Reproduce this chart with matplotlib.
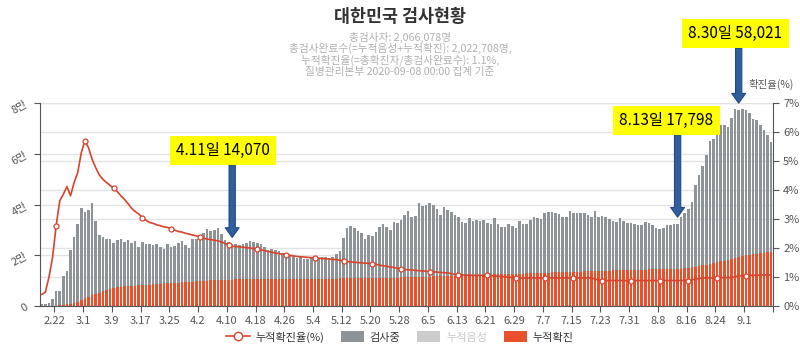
#!/usr/bin/env python3

import numpy as np
import pandas as pd
import matplotlib
matplotlib.use("Agg")
import matplotlib.pyplot as plt
from matplotlib.lines import Line2D
from matplotlib.patches import Patch

plt.rcParams['font.family'] = ['Noto Sans CJK KR', 'DejaVu Sans']

##################################################
##                    data                      ##
##################################################

dates = pd.date_range("2020-02-18", "2020-09-08", freq="D")
date_labels = ["{:d}.{:d}".format(d.month, d.day) for d in dates]

# 검사중 (tests in progress)
testing = [
  # Feb 18-29
  640, 900, 1280, 2570, 5800, 5570, 11400, 13170, 21020, 26040, 30630, 36160,
  # Mar
  33850, 34260, 36190, 28890, 22670, 21530, 20020, 19530, 17570, 18620, 18790, 17550,
  18130, 16920, 17610, 15140, 17060, 16080, 15990, 15440, 15750, 14500, 13500, 15440,
  14260, 14460, 15460, 16370, 14520, 13120, 16840,
  # Apr
  16510, 17410, 18720, 20240, 19540, 19760, 20620, 18070, 15620, 14880, 14070, 13920,
  13490, 13860, 14340, 14910, 14690, 14270, 13750, 12640, 11530, 11920, 11310, 11000,
  10190, 9680, 9270, 8860, 8350, 8540,
  # May
  7940, 7930, 8320, 8510, 8300, 8500, 8490, 8290, 8480, 9560, 10830, 16090,
  19660, 20540, 19610, 18580, 17560, 15550, 16840, 16420, 18090, 20080, 21360, 20040,
  18710, 21990, 21580, 22640, 24460, 26200, 23560,
  # Jun
  23930, 29000, 27860, 28210, 28870, 28130, 26380, 24020, 27290, 25950, 25300, 23850,
  22900, 21150, 20720, 22380, 21450, 21700, 21340, 21590, 20430, 19880, 22060, 20020,
  18670, 18640, 19700, 18950, 18190, 20740,
  # Jul
  19500, 19650, 21000, 22230, 21470, 21010, 23660, 24020, 23960, 23510, 22860, 21530,
  21480, 24120, 23290, 23250, 23190, 22830, 22090, 21160, 23830, 21380, 21720, 21260,
  20320, 19410, 19050, 20330, 19300, 18650, 18530,
  # Aug
  18200, 17760, 17530, 18810, 18480, 17640, 16300, 15780, 16240, 17300, 17470, 17640,
  17798, 20430, 21930, 23160, 25580, 31990, 35940, 38940, 43250, 48230, 48900, 50100,
  53840, 53360, 52140, 55190, 58600, 58021, 58100,
  # Sep 1-8
  57450, 55820, 53050, 52460, 50660, 48490, 46320, 43300,
]

# 누적확진 (cumulative confirmed)
confirmed = [
  30, 31, 51, 104, 204, 433, 602, 833, 977, 1261, 1766, 2337,
  3150, 3736, 4212, 4812, 5328, 5766, 6284, 6767, 7134, 7382, 7513, 7755,
  7869, 7979, 8086, 8162, 8236, 8320, 8413, 8565, 8652, 8799, 8897, 8961,
  9037, 9137, 9241, 9332, 9478, 9583, 9661,
  9786, 9887, 9976, 10062, 10156, 10237, 10284, 10331, 10384, 10423, 10450, 10480,
  10512, 10537, 10564, 10591, 10613, 10635, 10653, 10661, 10674, 10683, 10694, 10702,
  10708, 10718, 10728, 10738, 10752, 10761,
  10765, 10774, 10780, 10793, 10801, 10804, 10806, 10810, 10822, 10840, 10874, 10909,
  10936, 10962, 10991, 11018, 11037, 11050, 11065, 11078, 11110, 11122, 11142, 11165,
  11190, 11206, 11225, 11265, 11344, 11402, 11441,
  11468, 11503, 11541, 11590, 11629, 11668, 11719, 11776, 11814, 11852, 11902, 11947,
  12003, 12051, 12085, 12121, 12155, 12198, 12257, 12306, 12373, 12421, 12438, 12484,
  12535, 12563, 12602, 12653, 12715, 12757,
  12800, 12850, 12904, 12967, 13030, 13091, 13137, 13181, 13244, 13293, 13338, 13373,
  13417, 13479, 13512, 13551, 13612, 13672, 13711, 13745, 13771, 13816, 13879, 13938,
  13979, 14092, 14150, 14175, 14203, 14251, 14269,
  14305, 14336, 14366, 14389, 14423, 14456, 14499, 14519, 14562, 14598, 14626, 14660,
  14714, 14770, 14873, 15039, 15318, 15515, 15761, 16058, 16346, 16670, 17002, 17399,
  17665, 17945, 18265, 18706, 19077, 19400, 19699,
  19947, 20182, 20449, 20644, 20842, 21010, 21177, 21296,
]

# 누적확진율 (%)
positive_rate = [
  0.40, 0.48, 1.00, 1.68, 2.77, 3.63, 3.85, 4.12, 3.80, 4.26, 4.60, 5.29,
  5.69, 5.46, 5.06, 4.77, 4.52, 4.37, 4.26, 4.16, 4.06, 3.95, 3.80, 3.68,
  3.53, 3.37, 3.26, 3.17, 3.05, 2.96, 2.88, 2.85, 2.80, 2.77, 2.73, 2.71,
  2.67, 2.62, 2.57, 2.55, 2.51, 2.48, 2.45,
  2.42, 2.38, 2.34, 2.31, 2.29, 2.27, 2.25, 2.21, 2.16, 2.10, 2.06, 2.05,
  2.04, 2.03, 2.01, 2.00, 1.98, 1.96, 1.94, 1.91, 1.88, 1.86, 1.83, 1.81,
  1.79, 1.77, 1.75, 1.73, 1.71, 1.70,
  1.69, 1.68, 1.67, 1.66, 1.65, 1.64, 1.63, 1.62, 1.61, 1.60, 1.58, 1.56,
  1.54, 1.52, 1.51, 1.50, 1.49, 1.48, 1.47, 1.46, 1.44, 1.41, 1.39, 1.37,
  1.35, 1.33, 1.30, 1.28, 1.26, 1.25, 1.24,
  1.23, 1.22, 1.21, 1.20, 1.19, 1.18, 1.17, 1.16, 1.15, 1.14, 1.12, 1.09,
  1.07, 1.07, 1.07, 1.07, 1.06, 1.06, 1.06, 1.06, 1.06, 1.05, 1.04, 1.03,
  1.02, 1.01, 1.00, 0.98, 0.97, 0.97,
  0.97, 0.97, 0.97, 0.97, 0.97, 0.97, 0.97, 0.97, 0.97, 0.97, 0.97, 0.97,
  0.97, 0.97, 0.97, 0.97, 0.97, 0.97, 0.97, 0.97, 0.93, 0.90, 0.88, 0.88,
  0.88, 0.88, 0.88, 0.88, 0.88, 0.88, 0.88,
  0.88, 0.88, 0.88, 0.88, 0.88, 0.88, 0.88, 0.88, 0.88, 0.88, 0.88, 0.88,
  0.88, 0.88, 0.88, 0.88, 0.90, 0.93, 0.95, 0.97, 0.97, 0.97, 0.97, 0.97,
  0.97, 0.98, 0.98, 0.98, 1.01, 1.04, 1.05,
  1.05, 1.06, 1.06, 1.06, 1.07, 1.07, 1.07, 1.07,
]

left_ticks = [0, 20000, 40000, 60000, 80000]
left_ticklabels = ["0", "2만", "4만", "6만", "8만"]
right_ticks = [0, 1, 2, 3, 4, 5, 6, 7]

title = "대한민국 검사현황"
subtitle = [
  "총검사자: 2,066,078명",
  "총검사완료수(=누적음성+누적확진): 2,022,708명,",
  "누적확진율(=총확진자/총검사완료수): 1.1%,",
  "질병관리본부 2020-09-08 00:00 집계 기준",
]

# (date, box centre x offset in days, box centre y, arrow tail y)
callouts = [
  ("4.11", -2.5, 61200, 55600),
  ("8.13", -3.1, 73000, 67300),
  ("8.30", -0.9, 107500, 101500),
]

##################################################
##                    plot                      ##
##################################################

col_red = "#e8512b"
col_gray = "#8e9397"
col_light = "#cccccc"
col_line = "#d8432c"
col_axis = "#555555"
col_text = "#555555"

testing = np.array(testing)
confirmed = np.array(confirmed)
positive_rate = np.array(positive_rate)
x = np.arange(len(dates))

fig = plt.figure(figsize=(8, 3.49), dpi=100)
ax = fig.add_axes([0.05, 0.123, 0.916, 0.582])

# grid lines for both y scales, behind the bars
for v in left_ticks[1:]:
  ax.axhline(v, color="#e3e3e3", lw=1, zorder=0)
for p in right_ticks[1:]:
  ax.axhline(p * left_ticks[-1] / right_ticks[-1], color="#e3e3e3", lw=1, zorder=0)

ax.bar(x, confirmed, width=0.72, color=col_red, zorder=2)
ax.bar(x, testing, bottom=confirmed, width=0.72, color=col_gray, zorder=2)

ax.set_xlim(-0.5, len(dates) - 0.5)
ax.set_ylim(0, left_ticks[-1])
ax.set_yticks(left_ticks)
ax.set_yticklabels(left_ticklabels, rotation=30)

tick_idx = list(range(4, len(dates) + 1, 8))
ax.set_xticks([i - 0.5 for i in tick_idx])
ax.set_xticklabels([date_labels[i] if i < len(dates) else "" for i in tick_idx])

for side in ["top", "right"]:
  ax.spines[side].set_visible(False)
for side in ["left", "bottom"]:
  ax.spines[side].set_color(col_axis)
ax.tick_params(axis="both", colors=col_axis, labelcolor=col_text, labelsize=8, length=4)

ax2 = ax.twinx()
ax2.plot(x, positive_rate, color=col_line, lw=1.2, zorder=3,
         marker="o", markevery=slice(4, None, 8), markersize=3.6,
         markerfacecolor="white", markeredgecolor=col_line, markeredgewidth=0.9)
ax2.set_ylim(0, right_ticks[-1])
ax2.set_yticks(right_ticks)
ax2.set_yticklabels(["{:d}%".format(p) for p in right_ticks])
for side in ["top", "left", "bottom"]:
  ax2.spines[side].set_visible(False)
ax2.spines["right"].set_color(col_axis)
ax2.tick_params(axis="y", colors=col_axis, labelcolor=col_text, labelsize=8, length=4)

fig.text(771 / 800, 1 - 84 / 349, "확진율(%)", ha="center", va="center",
         fontsize=7.5, color=col_text)

## title block
fig.text(0.5, 1 - 17 / 349, title, ha="center", va="center",
         fontsize=12.5, fontweight="bold", color="#333333")
for k, line in enumerate(subtitle):
  fig.text(0.5, 1 - (37 + 11.7 * k) / 349, line, ha="center", va="center",
           fontsize=7.7, color="#b0b0b0")

## yellow call-outs with arrows
for day, dx, box_y, tail_y in callouts:
  i = date_labels.index(day)
  top = confirmed[i] + testing[i]
  ax.annotate("", xy=(i, top + 2500), xytext=(i, tail_y),
              arrowprops=dict(arrowstyle="simple,head_length=0.7,head_width=1.0,tail_width=0.45",
                              fc="#2f5f9f", ec="#22497d", lw=0.8, shrinkA=0, shrinkB=0),
              zorder=6, annotation_clip=False)
  ax.text(i + dx, box_y, "{:s}일 {:,}".format(day, testing[i]), ha="center", va="center",
          fontsize=11, color="black", zorder=7, clip_on=False,
          bbox=dict(boxstyle="square,pad=0.4", fc="#ffff00", ec="none"))

## legend
handles = [
  Line2D([0], [0], color=col_line, lw=1.2, marker="o", markersize=6,
         markerfacecolor="white", markeredgecolor=col_line),
  Patch(facecolor=col_gray, edgecolor="none"),
  Patch(facecolor=col_light, edgecolor="none"),
  Patch(facecolor=col_red, edgecolor="none"),
]
names = ["누적확진율(%)", "검사중", "누적음성", "누적확진"]
leg = fig.legend(handles, names, loc="center", bbox_to_anchor=(0.5, 1 - 337 / 349),
                 ncol=4, frameon=False, fontsize=8, handlelength=2.1, handleheight=1.1,
                 columnspacing=1.5, handletextpad=0.5)
for t in leg.get_texts():
  t.set_color("#333333")
leg.get_texts()[2].set_color("#c8c8c8")

fig.savefig("out.png", dpi=100)
